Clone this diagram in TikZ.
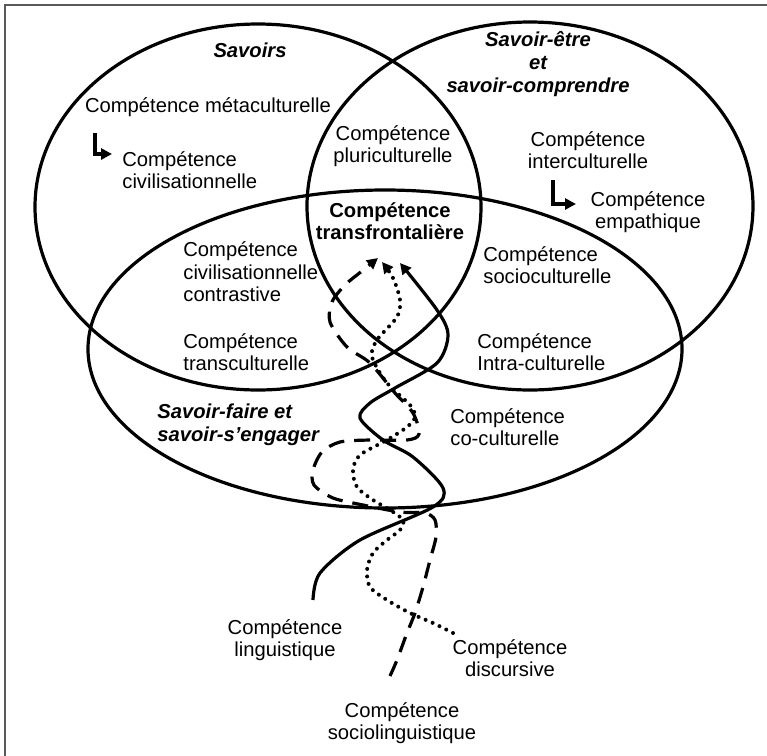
\documentclass[tikz,border=0pt]{standalone}
\usepackage{fontspec}
\setmainfont{Liberation Sans}
\usetikzlibrary{arrows.meta}
\tikzset{
  comp/.style={inner sep=0pt,align=center,font=\fontsize{10.1}{11.2}\selectfont},
  savoir/.style={comp,font=\fontsize{10.1}{11.7}\selectfont\bfseries\itshape},
  zone/.style={line width=1.6pt},
  fleche/.style={line width=1.6pt,-{Triangle[length=5.5pt,width=5.5pt]}},
  tirets/.style={dash pattern=on 8pt off 5pt},
  pointille/.style={line width=2pt,dash pattern=on 0pt off 3.8pt,line cap=round},
}
\begin{document}
\begin{tikzpicture}[x=0.5pt,y=-0.5pt]
\useasboundingbox (0,0) rectangle (767,756);
\draw[gray!70!black,line width=1pt] (5,756) -- (5,5) -- (767,5);
% les trois ensembles
\draw[zone] (258,207) ellipse [x radius=223,y radius=183];
\draw[zone] (530,206) ellipse [x radius=223,y radius=184];
\draw[zone] (385,349) ellipse [x radius=297,y radius=159];
\node[savoir] (sav) at (250,50) {Savoirs};
\node[savoir] (etre) at (538,64) {Savoir-être\\et\\savoir-comprendre};
\node[savoir,align=left,anchor=west] (faire) at (157,425) {Savoir-faire et\\savoir-s’engager};
\node[comp] (meta) at (208,107) {Compétence métaculturelle};
\node[comp,align=left,anchor=west] (civ) at (122,170) {Compétence\\civilisationnelle};
\node[comp] (pluri) at (393,146) {Compétence\\pluriculturelle};
\node[comp,font=\fontsize{10.1}{11.2}\selectfont\bfseries] (trans) at (390,221) {Compétence\\transfrontalière};
\node[comp] (inter) at (588,150) {Compétence\\interculturelle};
\node[comp] (empa) at (648,212) {Compétence\\empathique};
\node[comp,align=left,anchor=west] (socio) at (483,265) {Compétence\\socioculturelle};
\node[comp,align=left,anchor=west] (contr) at (183,272) {Compétence\\civilisationnelle\\contrastive};
\node[comp,align=left,anchor=west] (transc) at (183,352) {Compétence\\transculturelle};
\node[comp,align=left,anchor=west] (intra) at (477,352) {Compétence\\Intra-culturelle};
\node[comp,align=left,anchor=west] (cocult) at (450,427) {Compétence\\co-culturelle};
\node[comp] (ling) at (285,640) {Compétence\\linguistique};
\node[comp] (disc) at (510,658) {Compétence\\discursive};
\node[comp] (sling) at (402,723) {Compétence\\sociolinguistique};
% petites fleches coudees
\draw[fleche,line width=1.8pt] (95,133) |- (112,154);
\draw[fleche,line width=1.8pt] (553,180) |- (576,204);
% les trois fils
\coordinate (lingS) at (313,600);
\coordinate (discS) at (453,633);
\coordinate (slingS) at (390,676);
\coordinate (tipL) at (400,263);
\coordinate (tipD) at (382,262);
\coordinate (tipS) at (378,258);
\draw[fleche] plot[smooth] coordinates {(lingS) (320,573) (360,540) (433,507) (443,488) (413,457) (383,440) (360,418) (370,403) (395,388) (437,363) (448,335) (437,310) (tipL)};
\draw[fleche,pointille] plot[smooth] coordinates {(discS) (433,623) (410,613) (387,600) (370,587) (367,570) (373,553) (387,540) (400,530) (403,520) (390,510) (373,500) (357,487) (353,470) (360,455) (387,440) (407,427) (415,417) (410,405) (387,383) (372,357) (377,340) (397,317) (400,300) (393,278) (tipD)};
\draw[fleche,tirets] plot[smooth] coordinates {(slingS) (397,660) (407,633) (415,613) (423,587) (430,560) (436,537) (435,520) (425,513) (400,512) (363,505) (333,498) (314,485) (313,470) (322,452) (340,442) (370,440) (407,440) (419,434) (413,413) (395,393) (370,363) (347,347) (330,322) (332,302) (345,285) (362,271) (tipS)};
\end{tikzpicture}
\end{document}
